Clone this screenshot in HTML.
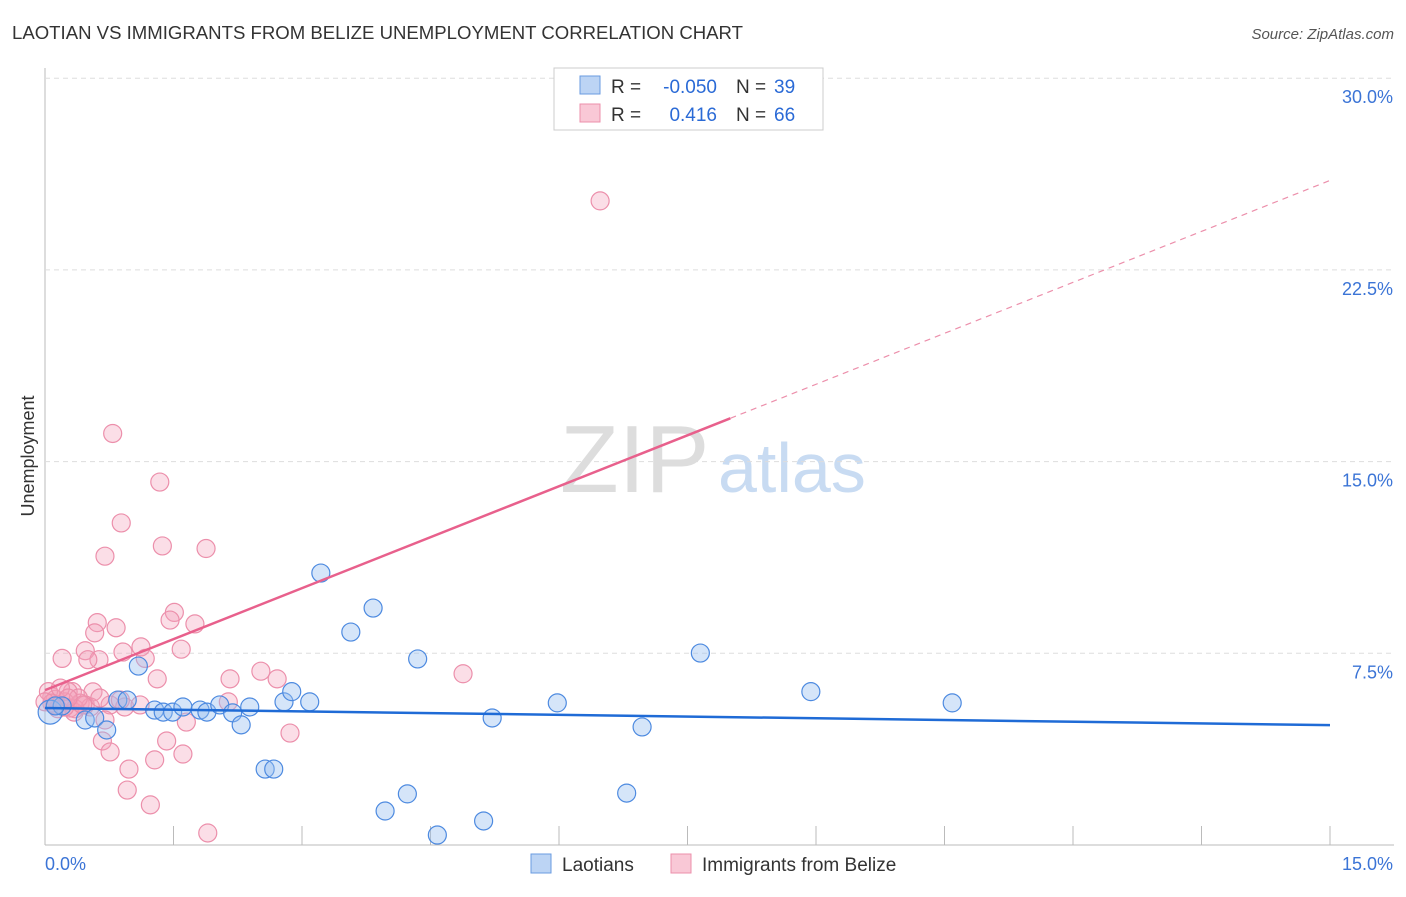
<!DOCTYPE html>
<html><head><meta charset="utf-8"><style>
body{margin:0;background:#fff;font-family:"Liberation Sans",sans-serif;}
svg text{font-family:"Liberation Sans",sans-serif;}
</style></head><body>
<svg id="chart" width="1406" height="892">
<text x="12" y="39" font-size="18" fill="#333" textLength="731" lengthAdjust="spacingAndGlyphs">LAOTIAN VS IMMIGRANTS FROM BELIZE UNEMPLOYMENT CORRELATION CHART</text>
<text x="1394" y="39" font-size="15" fill="#555" font-style="italic" text-anchor="end">Source: ZipAtlas.com</text>
<text x="34" y="456" font-size="18" fill="#333" text-anchor="middle" transform="rotate(-90 34 456)">Unemployment</text>
<text x="560" y="492" font-size="96" fill="#ddd" font-family="Liberation Serif">ZIP</text>
<text x="718" y="492" font-size="70" fill="#c8dbf2">atlas</text>
<g id="grid"></g><g id="pts"></g><g id="lines"></g>
<g>
<rect x="554" y="68" width="269" height="62" fill="#fff" stroke="#ccc"/>
<rect x="580" y="76" width="20" height="18" fill="#bcd4f4" stroke="#6a9be0"/>
<rect x="580" y="104" width="20" height="18" fill="#f9c8d6" stroke="#ec8fab"/>
<text x="611" y="93" font-size="19" fill="#333">R =</text>
<text x="717" y="93" font-size="19" fill="#2a6ad6" text-anchor="end">-0.050</text>
<text x="736" y="93" font-size="19" fill="#333">N =</text>
<text x="774" y="93" font-size="19" fill="#2a6ad6">39</text>
<text x="611" y="121" font-size="19" fill="#333">R =</text>
<text x="717" y="121" font-size="19" fill="#2a6ad6" text-anchor="end">0.416</text>
<text x="736" y="121" font-size="19" fill="#333">N =</text>
<text x="774" y="121" font-size="19" fill="#2a6ad6">66</text>
</g>
<g>
<rect x="531" y="854" width="20" height="19" fill="#bcd4f4" stroke="#6a9be0"/>
<text x="562" y="871" font-size="19" fill="#333">Laotians</text>
<rect x="671" y="854" width="20" height="19" fill="#f9c8d6" stroke="#ec8fab"/>
<text x="702" y="871" font-size="19" fill="#333">Immigrants from Belize</text>
</g>
</svg>
<script>
const yTicks=[7.5,15,22.5,30];
const yTickLabels=["7.5%","15.0%","22.5%","30.0%"];
const xTickLabels=["0.0%","15.0%"];
const blueX=[0.06,0.2,0.47,0.58,0.72,0.85,0.96,1.09,1.28,1.38,1.49,1.61,1.81,1.89,2.04,2.19,2.29,2.39,2.57,2.67,2.79,2.88,3.09,3.22,3.57,3.83,3.97,4.23,4.35,4.58,5.12,5.22,5.98,6.79,6.97,7.65,8.94,10.59,0.12];
const blueY=[5.2,5.44,4.89,4.97,4.5,5.67,5.67,7.0,5.28,5.2,5.2,5.4,5.28,5.2,5.48,5.17,4.7,5.4,2.97,2.97,5.6,6.0,5.6,10.64,8.33,9.27,1.33,2.0,7.28,0.39,0.94,4.97,5.56,2.03,4.62,7.51,6.0,5.56,5.44];
const pinkX=[0.79,6.48,1.34,0.89,1.37,1.88,0.70,1.51,1.46,1.75,0.61,0.58,0.83,1.12,0.91,0.47,0.63,0.50,0.20,1.17,1.59,2.16,2.52,2.71,4.88,1.31,0.32,0.27,0.56,0.08,0.12,0.23,0.41,0.47,0.15,0.53,0.35,0.76,0.93,1.11,2.14,0.12,0.29,0.70,1.65,2.86,0.34,1.42,0.67,0.76,1.61,1.28,0.98,0.96,1.23,1.90,0.04,0.08,0.18,0.23,0.39,0.44,0.64,0.88,0.0,0.27];
const pinkY=[16.1,25.2,14.2,12.6,11.7,11.6,11.3,9.1,8.8,8.65,8.7,8.3,8.5,7.75,7.55,7.6,7.25,7.25,7.3,7.3,7.66,6.5,6.8,6.5,6.7,6.5,6.0,6.0,5.99,5.8,5.7,5.6,5.55,5.48,5.33,5.4,5.33,5.48,5.4,5.48,5.6,5.48,5.36,4.89,4.81,4.38,5.2,4.07,4.07,3.64,3.56,3.33,2.97,2.15,1.57,0.47,6.0,5.55,6.14,5.4,5.75,5.48,5.75,5.67,5.6,5.75];
const blueFit=[5.36,4.69], pinkFit=[6.06,26.0];
const X=v=>45+v/15*1285, Y=v=>845-v*191.7/7.5;
const NS="http://www.w3.org/2000/svg";
function mk(t,a,p){const e=document.createElementNS(NS,t);for(const k in a)e.setAttribute(k,a[k]);p.appendChild(e);return e;}
const g=document.getElementById('grid');
mk('line',{x1:45,y1:68,x2:45,y2:845,stroke:'#bbb'},g);
mk('line',{x1:45,y1:845,x2:1394,y2:845,stroke:'#bbb'},g);
yTicks.forEach((v,i)=>{
 const l=mk('line',{x1:45,y1:Y(v),x2:1394,y2:Y(v),stroke:'#ddd','stroke-dasharray':'5,4'},g);
 
 
 const t=mk('text',{x:1393,y:Y(v)+25,'font-size':18,fill:'#3b74d6','text-anchor':'end'},g);t.textContent=yTickLabels[i];
 
 
});
for(let i=1;i<=10;i++){const x=X(i*1.5);mk('line',{x1:x,y1:826,x2:x,y2:845,stroke:'#bbb'},g);}
[[0,'start',45],[15,'end',1393]].forEach((d,i)=>{const t=mk('text',{x:d[2],y:870,'font-size':18,fill:'#3b74d6','text-anchor':d[1]},g);t.textContent=xTickLabels[i];
 
 });
const p=document.getElementById('pts');
pinkX.forEach((x,i)=>{const c=mk('circle',{cx:X(x),cy:Y(pinkY[i]),r:9,fill:'rgba(244,160,186,0.35)',stroke:'#ec8fab','stroke-width':1.2},p);
 
 });
blueX.forEach((x,i)=>{const c=mk('circle',{cx:X(x),cy:Y(blueY[i]),r:i==0?12:9,fill:'rgba(150,190,240,0.4)',stroke:'#4d8ae0','stroke-width':1.2},p);
 
 });
const L=document.getElementById('lines');
const bl=mk('line',{x1:X(0),y1:Y(blueFit[0]),x2:X(15),y2:Y(blueFit[1]),stroke:'#1f6bd6','stroke-width':2.5},L);


const pv=x=>pinkFit[0]+(pinkFit[1]-pinkFit[0])*x/15;
const xs=8.0;
const pl=mk('line',{x1:X(0),y1:Y(pv(0)),x2:X(xs),y2:Y(pv(xs)),stroke:'#e8608c','stroke-width':2.5},L);


const pd=mk('line',{x1:X(xs),y1:Y(pv(xs)),x2:X(15),y2:Y(pv(15)),stroke:'#ec8fab','stroke-width':1.2,'stroke-dasharray':'6,5'},L);


</script>
</body></html>
